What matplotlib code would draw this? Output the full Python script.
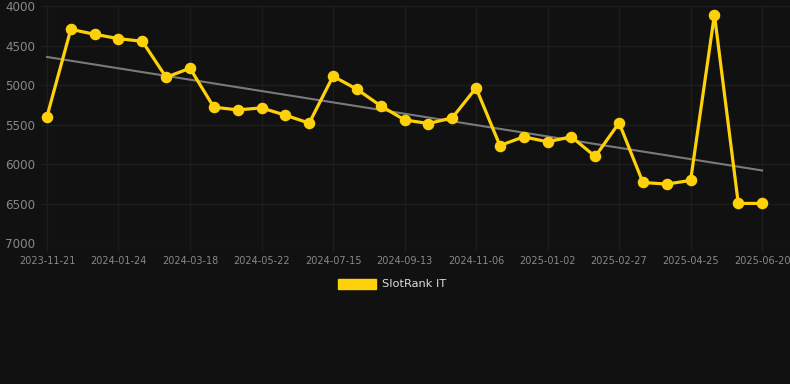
import numpy as np
import matplotlib
matplotlib.use("Agg")
import matplotlib.pyplot as plt
from matplotlib.patches import Patch

# Rank values (lower is better, axis inverted)
ranks = [5400, 4295, 4358, 4413, 4447, 4902, 4788, 5281, 5315, 5290,
         5382, 5483, 4889, 5053, 5264, 5441, 5488, 5416, 5037, 5766,
         5656, 5719, 5656, 5905, 5479, 6234, 6254, 6208, 4110, 6499,
         6499]
tick_labels = ["2023-11-21", "2024-01-24", "2024-03-18", "2024-05-22",
               "2024-07-15", "2024-09-13", "2024-11-06", "2025-01-02",
               "2025-02-27", "2025-04-25", "2025-06-20"]
trend = [4645, 6082]  # trend line at first and last point
y_ticks = [4000, 4500, 5000, 5500, 6000, 6500, 7000]

bg = "#111111"
yellow = "#FFD10A"

fig = plt.figure(figsize=(7.9, 3.84), dpi=100, facecolor=bg)
ax = fig.add_axes([41 / 790, 1 - 243 / 384, 749 / 790, 237 / 384])
ax.set_facecolor(bg)

x = np.arange(len(ranks))
ax.plot([x[0], x[-1]], trend, color="#7a7a7a", linewidth=1.5, zorder=2)
ax.plot(x, ranks, color=yellow, linewidth=2.3, marker="o", markersize=7.3,
        zorder=3, solid_joinstyle="miter")

ax.set_ylim(7000, 4000)
ax.set_xlim(-0.25, len(ranks) - 1 + 1.17)
ax.set_yticks(y_ticks)
ax.set_xticks(x[::3])
ax.set_xticklabels(tick_labels)

ax.grid(True, color="#1d1d1d", linewidth=1)
ax.set_axisbelow(True)
for s in ax.spines.values():
    s.set_visible(False)
ax.tick_params(axis="y", colors="#888888", labelsize=8.6, length=0, pad=4)
ax.tick_params(axis="x", colors="#1d1d1d", labelcolor="#888888",
               labelsize=7, length=6, width=1, pad=3)

fig.legend(handles=[Patch(facecolor=yellow, edgecolor=yellow, label="SlotRank IT")],
           loc="center", bbox_to_anchor=(0.496, 1 - 284 / 384), frameon=False,
           labelcolor="#dddddd", fontsize=8.2, handlelength=3.4, handleheight=1.0,
           handletextpad=0.5)

fig.savefig("out.png", dpi=100, facecolor=bg)
